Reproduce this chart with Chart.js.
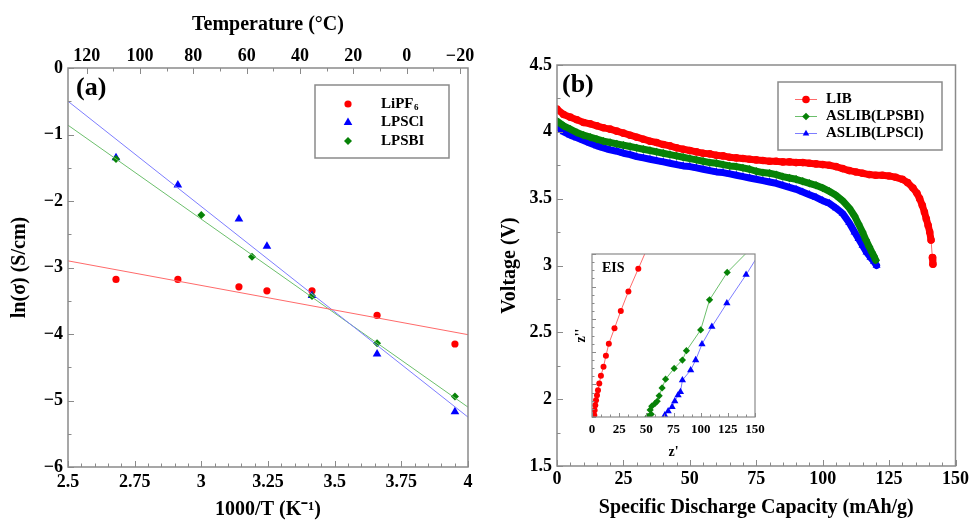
<!DOCTYPE html>
<html>
<head>
<meta charset="utf-8">
<script src="https://cdn.jsdelivr.net/npm/chart.js@4.4.0/dist/chart.umd.min.js"></script>
<style>
  body { margin: 0; background: #fff; }
  #wrap { position: relative; width: 972px; height: 520px; }
  canvas { position: absolute; }
</style>
</head>
<body>
<div id="wrap">
  <canvas id="arrhenius" style="left:0;top:0" width="486" height="520"></canvas>
  <canvas id="discharge" style="left:486px;top:0" width="486" height="520"></canvas>
  <canvas id="eis" style="left:560px;top:240px" width="210" height="230"></canvas>
</div>
<script>
// ---- (a) conductivity vs 1000/T ----
const invT = [2.68, 2.912, 3.141, 3.246, 3.415, 3.659, 3.951];
const lnLiPF6 = [-3.18, -3.18, -3.29, -3.35, -3.35, -3.72, -4.15];
const lnLPSCl = [-1.35, -1.76, -2.27, -2.68, -3.42, -4.30, -5.17];
const invT_LPSBI = [2.68, 3.0, 3.19, 3.415, 3.659, 3.951];
const lnLPSBI = [-1.37, -2.21, -2.84, -3.43, -4.14, -4.94];
// linear fits, read at both ends of the axis
const fitX = [2.5, 4];
const fitLiPF6 = [-2.90, -4.01];
const fitLPSCl = [-0.50, -5.25];
const fitLPSBI = [-0.86, -5.10];

// ---- (b) discharge curves ----
const capLIB = [0, 2.5, 5, 7.5, 10, 12.5, 15, 17.5, 20, 22.5, 25, 27.5, 30, 32.5, 35, 37.5, 40, 42.5, 45, 47.5,
  50, 52.5, 55, 57.5, 60, 62.5, 65, 67.5, 70, 72.5, 75, 77.5, 80, 82.5, 85, 87.5, 90, 92.5, 95, 97.5,
  100, 102.5, 105, 107.5, 110, 112.5, 115, 117.5, 120, 122.5, 125, 127.5, 130,
  132, 134, 135.5, 136.5, 137.5, 138.3, 139, 139.7, 140.3, 140.8, 141.3, 141.5];
const voltLIB = [4.17, 4.13, 4.11, 4.09, 4.07, 4.06, 4.045, 4.03, 4.02, 4.005, 3.99, 3.975, 3.96, 3.945, 3.93, 3.92, 3.905, 3.895, 3.88, 3.87,
  3.86, 3.85, 3.84, 3.835, 3.825, 3.82, 3.81, 3.805, 3.80, 3.795, 3.79, 3.785, 3.78, 3.78, 3.775, 3.775, 3.77, 3.77, 3.765, 3.76,
  3.755, 3.75, 3.74, 3.725, 3.71, 3.70, 3.69, 3.68, 3.675, 3.675, 3.67, 3.66, 3.645,
  3.62, 3.58, 3.54, 3.50, 3.45, 3.40, 3.35, 3.30, 3.25, 3.19, 3.06, 3.01];

const capLPSBI = [0, 2.5, 5, 7.5, 10, 12.5, 15, 17.5, 20, 22.5, 25, 27.5, 30, 32.5, 35, 37.5, 40, 42.5, 45, 47.5,
  50, 52.5, 55, 57.5, 60, 62.5, 65, 67.5, 70, 72.5, 75, 77.5, 80, 82.5, 85, 87.5, 90, 92.5, 95, 97.5,
  100, 102.5, 105, 107.5, 110, 112, 113.5, 115, 116.3, 117.5, 118.5, 119.3, 120];
const voltLPSBI = [4.08, 4.045, 4.02, 3.995, 3.975, 3.96, 3.945, 3.93, 3.92, 3.91, 3.90, 3.89, 3.88, 3.87, 3.86, 3.85, 3.84, 3.83, 3.82, 3.81,
  3.80, 3.79, 3.78, 3.77, 3.765, 3.755, 3.745, 3.74, 3.73, 3.72, 3.705, 3.695, 3.69, 3.68, 3.665, 3.655, 3.645, 3.63, 3.615, 3.60,
  3.58, 3.555, 3.525, 3.485, 3.43, 3.37, 3.31, 3.25, 3.19, 3.14, 3.10, 3.07, 3.04];

const capLPSCl = [0, 2.5, 5, 7.5, 10, 12.5, 15, 17.5, 20, 22.5, 25, 27.5, 30, 32.5, 35, 37.5, 40, 42.5, 45, 47.5,
  50, 52.5, 55, 57.5, 60, 62.5, 65, 67.5, 70, 72.5, 75, 77.5, 80, 82.5, 85, 87.5, 90, 92.5, 95, 97.5,
  100, 102.5, 105, 107.5, 110, 112, 113.5, 115, 116.5, 118, 119.3, 120.3];
const voltLPSCl = [4.04, 4.00, 3.975, 3.955, 3.935, 3.915, 3.895, 3.88, 3.865, 3.855, 3.84, 3.83, 3.815, 3.805, 3.795, 3.785, 3.775, 3.765, 3.755, 3.745,
  3.74, 3.73, 3.72, 3.71, 3.70, 3.695, 3.685, 3.675, 3.665, 3.655, 3.645, 3.635, 3.625, 3.615, 3.60, 3.585, 3.57, 3.55, 3.53, 3.51,
  3.485, 3.465, 3.43, 3.39, 3.32, 3.25, 3.20, 3.15, 3.10, 3.06, 3.03, 3.00];

// ---- inset: Nyquist plot ----
const zReLIB = [2.1, 2.4, 3.0, 3.7, 4.6, 5.5, 6.7, 8.2, 10.6, 12.8, 15.5, 20.7, 26.5, 33.5, 42.6, 52];
const zImLIB = [1.6, 6.2, 10.8, 15.4, 20.0, 24.7, 30.8, 37.9, 46.2, 56.3, 67.5, 81.6, 97.6, 115.5, 136.4, 158];
const zReLPSBI = [51.5, 54.5, 53.5, 55, 58, 60, 61.8, 64.5, 67.7, 75.6, 83.2, 86.9, 100, 108.2, 124.4, 152];
const zImLPSBI = [0.5, 2.5, 6.5, 10, 12.5, 14.5, 19.5, 26.8, 34.8, 44.7, 52.4, 61.0, 80.1, 107.8, 133.0, 161];
const zReLPSCl = [67.0, 70.1, 73.7, 76.2, 79.2, 81.4, 83.2, 90.8, 95.4, 101.2, 110.3, 124.1, 141.8, 155];
const zImLPSCl = [1.6, 5.3, 9.2, 14.5, 20.0, 23.1, 33.9, 43.1, 52.4, 67.0, 83.1, 104.7, 130.9, 152];

const SERIF = "'Liberation Serif', 'Times New Roman', serif";
Chart.defaults.font.family = SERIF;
Chart.defaults.font.size = 18;
Chart.defaults.font.weight = 'bold';
Chart.defaults.color = '#000';
Chart.defaults.animation = false;

const RED = '#ff0000', BLUE = '#0000ff', GREEN = '#078207';
const RED_L = '#ff6a6a', BLUE_L = '#7d7dff', GREEN_L = '#6cbf6c';

function xy(xs, ys) {
  return xs.map((x, i) => ({ x: x, y: ys[i] }));
}

function num(v) {
  const s = String(+v.toFixed(2));
  return v < 0 ? '\u2212' + s.slice(1) : s;
}

// where the markers crowd together the curve reads as a solid band,
// where they spread out only the thin connecting line shows
function band(color, light) {
  const close = c => Math.hypot(c.p1.x - c.p0.x, c.p1.y - c.p0.y) < 13;
  return {
    borderWidth: c => close(c) ? 7 : 1,
    borderColor: c => close(c) ? color : light
  };
}

// box around the plot area with inward ticks
const frame = {
  id: 'frame',
  afterDatasetsDraw(chart, args, opts) {
    const ctx = chart.ctx, a = chart.chartArea;
    ctx.save();
    ctx.strokeStyle = opts.color;
    ctx.lineWidth = 1;
    for (const t of opts.ticks) {
      const s = chart.scales[t.scale];
      const ratio = Math.round(t.major / t.minor);
      const lo = Math.min(s.min, s.max), hi = Math.max(s.min, s.max);
      const k0 = Math.ceil(lo / t.minor - 1e-6), k1 = Math.floor(hi / t.minor + 1e-6);
      for (let k = k0; k <= k1; k++) {
        const p = Math.round(s.getPixelForValue(k * t.minor)) + 0.5;
        const len = k % ratio === 0 ? opts.majorLen : opts.minorLen;
        ctx.beginPath();
        if (t.side === 'bottom') { ctx.moveTo(p, a.bottom); ctx.lineTo(p, a.bottom - len); }
        if (t.side === 'top') { ctx.moveTo(p, a.top); ctx.lineTo(p, a.top + len); }
        if (t.side === 'left') { ctx.moveTo(a.left, p); ctx.lineTo(a.left + len, p); }
        ctx.stroke();
      }
    }
    ctx.lineWidth = opts.width;
    ctx.strokeRect(a.left, a.top, a.right - a.left, a.bottom - a.top);
    ctx.restore();
  }
};

// framed legend inside the plot area
const boxLegend = {
  id: 'boxLegend',
  afterDraw(chart, args, o) {
    if (!o.items) return;
    const ctx = chart.ctx, a = chart.chartArea;
    const x0 = a.left + o.left, y0 = a.top + o.top;
    ctx.save();
    ctx.fillStyle = '#fff';
    ctx.fillRect(x0, y0, o.width, o.height);
    ctx.strokeStyle = '#8a8a8a';
    ctx.lineWidth = 1.5;
    ctx.strokeRect(x0, y0, o.width, o.height);
    o.items.forEach((it, i) => {
      const ds = chart.data.datasets[it.dataset];
      const y = y0 + o.rowTop + i * o.rowGap;
      if (o.lineFrom !== undefined) {
        ctx.strokeStyle = it.line;
        ctx.lineWidth = 1;
        ctx.beginPath();
        ctx.moveTo(x0 + o.lineFrom, y);
        ctx.lineTo(x0 + o.lineTo, y);
        ctx.stroke();
      }
      ctx.fillStyle = ds.pointBackgroundColor;
      Chart.helpers.drawPoint(ctx, { pointStyle: ds.pointStyle, radius: o.radius || ds.pointRadius, borderWidth: 0, rotation: 0 }, x0 + o.markX, y);
      ctx.fillStyle = '#000';
      ctx.font = 'bold ' + o.size + 'px ' + SERIF;
      ctx.textBaseline = 'middle';
      ctx.fillText(ds.label, x0 + o.textX, y);
      if (it.sub) {
        const w = ctx.measureText(ds.label).width;
        ctx.font = 'bold ' + Math.round(o.size * 0.62) + 'px ' + SERIF;
        ctx.fillText(it.sub, x0 + o.textX + w + 0.5, y + 4);
      }
    });
    ctx.restore();
  }
};

// panel letter / inset tag
const tag = {
  id: 'tag',
  afterDraw(chart, args, o) {
    if (!o.text) return;
    const ctx = chart.ctx, a = chart.chartArea;
    ctx.save();
    ctx.fillStyle = '#000';
    ctx.font = 'bold ' + o.size + 'px ' + SERIF;
    ctx.textBaseline = 'middle';
    ctx.fillText(o.text, a.left + o.x, a.top + o.y);
    ctx.restore();
  }
};

const noGrid = { display: false, drawTicks: false };
const noBorder = { display: false };

// (a)
new Chart(document.getElementById('arrhenius'), {
  type: 'scatter',
  data: {
    datasets: [
      { label: 'fit LiPF6', type: 'line', data: xy(fitX, fitLiPF6), borderColor: RED_L, borderWidth: 1, pointRadius: 0 },
      { label: 'fit LPSCl', type: 'line', data: xy(fitX, fitLPSCl), borderColor: BLUE_L, borderWidth: 1, pointRadius: 0 },
      { label: 'fit LPSBI', type: 'line', data: xy(fitX, fitLPSBI), borderColor: GREEN_L, borderWidth: 1, pointRadius: 0 },
      { label: 'LPSBI', data: xy(invT_LPSBI, lnLPSBI), pointStyle: 'rectRot', pointRadius: 4, pointBackgroundColor: GREEN, pointBorderWidth: 0 },
      { label: 'LPSCl', data: xy(invT, lnLPSCl), pointStyle: 'triangle', pointRadius: 5, pointBackgroundColor: BLUE, pointBorderWidth: 0 },
      { label: 'LiPF', data: xy(invT, lnLiPF6), pointStyle: 'circle', pointRadius: 3.6, pointBackgroundColor: RED, pointBorderWidth: 0 }
    ]
  },
  options: {
    responsive: false,
    layout: { padding: { top: 0, right: 18, bottom: 0, left: 0 } },
    scales: {
      x: {
        type: 'linear', position: 'bottom', min: 2.5, max: 4,
        grid: noGrid, border: noBorder,
        ticks: { stepSize: 0.25, padding: 5, autoSkip: false, maxRotation: 0, callback: v => num(v) },
        title: { display: true, text: '1000/T (K\u207B\u00B9)', font: { size: 20 }, padding: { top: 0, bottom: -2 } },
        afterFit: s => { s.height = 53; }
      },
      xTop: {
        type: 'linear', position: 'top', reverse: true, min: -23, max: 127,
        grid: noGrid, border: noBorder,
        ticks: { stepSize: 20, includeBounds: false, padding: 1, autoSkip: false, maxRotation: 0, callback: v => num(v) },
        title: { display: true, text: 'Temperature (\u00B0C)', font: { size: 20 }, padding: { top: 13, bottom: 0 } },
        afterFit: s => { s.height = 68; }
      },
      y: {
        min: -6, max: 0,
        grid: noGrid, border: noBorder,
        ticks: { stepSize: 1, padding: 5, callback: v => num(v) },
        title: { display: true, text: 'ln(\u03C3) (S/cm)', font: { size: 20 }, padding: { top: 8, bottom: 0 } },
        afterFit: s => { s.width = 68; }
      }
    },
    plugins: {
      legend: { display: false },
      tooltip: { enabled: false },
      frame: {
        color: '#8a8a8a', width: 1.5, majorLen: 6, minorLen: 3.5,
        ticks: [
          { scale: 'x', side: 'bottom', major: 0.25, minor: 0.05 },
          { scale: 'xTop', side: 'top', major: 20, minor: 10 },
          { scale: 'y', side: 'left', major: 1, minor: 0.5 }
        ]
      },
      boxLegend: {
        left: 247, top: 17, width: 134, height: 73, rowTop: 19, rowGap: 18.5,
        markX: 33, textX: 66, size: 15,
        items: [{ dataset: 5, sub: '6' }, { dataset: 4 }, { dataset: 3 }]
      },
      tag: { text: '(a)', x: 8, y: 20, size: 26 }
    }
  },
  plugins: [frame, boxLegend, tag]
});

// (b)
new Chart(document.getElementById('discharge'), {
  type: 'scatter',
  data: {
    datasets: [
      { label: 'LIB', data: xy(capLIB, voltLIB), showLine: true, segment: band(RED, RED_L),
        borderCapStyle: 'round', borderJoinStyle: 'round',
        pointStyle: 'circle', pointRadius: 3.8, pointBackgroundColor: RED, pointBorderWidth: 0 },
      { label: 'ASLIB(LPSBI)', data: xy(capLPSBI, voltLPSBI), showLine: true, segment: band(GREEN, GREEN_L),
        borderCapStyle: 'round', borderJoinStyle: 'round',
        pointStyle: 'rectRot', pointRadius: 4.2, pointBackgroundColor: GREEN, pointBorderWidth: 0 },
      { label: 'ASLIB(LPSCl)', data: xy(capLPSCl, voltLPSCl), showLine: true, segment: band(BLUE, BLUE_L),
        borderCapStyle: 'round', borderJoinStyle: 'round',
        pointStyle: 'triangle', pointRadius: 4.6, pointBackgroundColor: BLUE, pointBorderWidth: 0 }
    ]
  },
  options: {
    responsive: false,
    layout: { padding: { top: 65, right: 14, bottom: 0, left: 0 } },
    scales: {
      x: {
        type: 'linear', min: 0, max: 150,
        grid: noGrid, border: noBorder,
        ticks: { stepSize: 25, padding: 3, autoSkip: false, maxRotation: 0 },
        title: { display: true, text: 'Specific Discharge Capacity (mAh/g)', font: { size: 20 }, padding: { top: 0, bottom: 0 } },
        afterFit: s => { s.height = 54; }
      },
      y: {
        min: 1.5, max: 4.5,
        grid: noGrid, border: noBorder,
        ticks: { stepSize: 0.5, padding: 5, callback: v => num(v) },
        title: { display: true, text: 'Voltage (V)', font: { size: 20 }, padding: { top: 12, bottom: 0 } },
        afterFit: s => { s.width = 71; }
      }
    },
    plugins: {
      legend: { display: false },
      tooltip: { enabled: false },
      frame: {
        color: '#8a8a8a', width: 1.5, majorLen: 6, minorLen: 3.5,
        ticks: [
          { scale: 'x', side: 'bottom', major: 25, minor: 5 },
          { scale: 'y', side: 'left', major: 0.5, minor: 0.25 }
        ]
      },
      boxLegend: {
        left: 221, top: 17, width: 164, height: 68, rowTop: 17.5, rowGap: 17,
        lineFrom: 17, lineTo: 39, markX: 28, textX: 48, size: 15, radius: 3.8,
        items: [{ dataset: 0, line: RED_L }, { dataset: 1, line: GREEN_L }, { dataset: 2, line: BLUE_L }]
      },
      tag: { text: '(b)', x: 5, y: 20, size: 26 }
    }
  },
  plugins: [frame, boxLegend, tag]
});

// inset: EIS
new Chart(document.getElementById('eis'), {
  type: 'scatter',
  data: {
    datasets: [
      { label: 'LIB', data: xy(zReLIB, zImLIB), showLine: true, borderColor: RED_L, borderWidth: 1,
        pointStyle: 'circle', pointRadius: 3, pointBackgroundColor: RED, pointBorderWidth: 0 },
      { label: 'ASLIB(LPSBI)', data: xy(zReLPSBI, zImLPSBI), showLine: true, borderColor: GREEN_L, borderWidth: 1,
        pointStyle: 'rectRot', pointRadius: 3.6, pointBackgroundColor: GREEN, pointBorderWidth: 0 },
      { label: 'ASLIB(LPSCl)', data: xy(zReLPSCl, zImLPSCl), showLine: true, borderColor: BLUE_L, borderWidth: 1,
        pointStyle: 'triangle', pointRadius: 4.2, pointBackgroundColor: BLUE, pointBorderWidth: 0 }
    ]
  },
  options: {
    responsive: false,
    layout: { padding: { top: 14, right: 15, bottom: 0, left: 0 } },
    scales: {
      x: {
        type: 'linear', min: 0, max: 150,
        grid: noGrid, border: noBorder,
        ticks: { stepSize: 25, padding: 5, autoSkip: false, maxRotation: 0, font: { size: 13 } },
        title: { display: true, text: "z'", font: { size: 14 }, padding: { top: 0, bottom: 9 } },
        afterFit: s => { s.height = 53; }
      },
      y: {
        min: 0, max: 150,
        grid: noGrid, border: noBorder,
        ticks: { display: false },
        title: { display: true, text: "z''", font: { size: 14 }, padding: { top: 13, bottom: 0 } },
        afterFit: s => { s.width = 32; }
      }
    },
    plugins: {
      legend: { display: false },
      tooltip: { enabled: false },
      frame: {
        color: '#8a8a8a', width: 1.2, majorLen: 4, minorLen: 2.5,
        ticks: [
          { scale: 'x', side: 'bottom', major: 25, minor: 25 / 3 },
          { scale: 'y', side: 'left', major: 30, minor: 7.5 }
        ]
      },
      tag: { text: 'EIS', x: 10, y: 14, size: 14 }
    }
  },
  plugins: [frame, tag]
});
</script>
</body>
</html>
